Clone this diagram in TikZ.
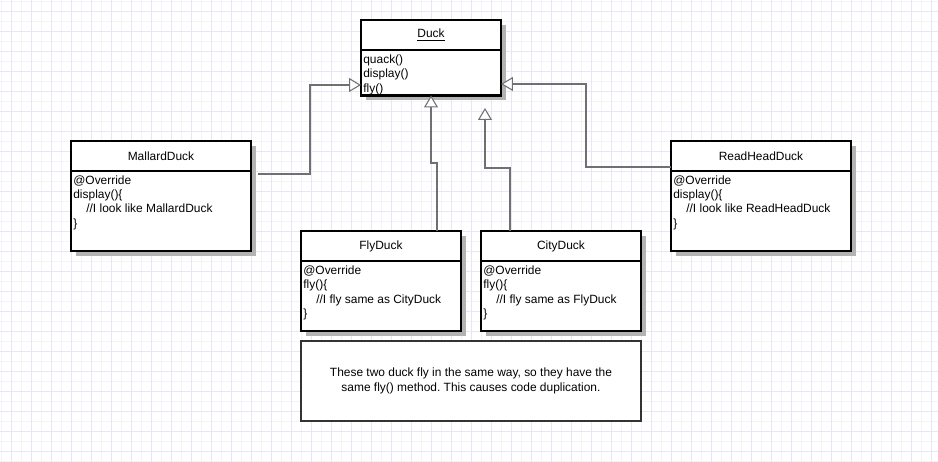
\documentclass[tikz,border=0pt]{standalone}
\usepackage{fontspec}
\setmainfont{Liberation Sans}
\usetikzlibrary{arrows.meta,shadows}

\definecolor{gridminor}{HTML}{F3F3FB}
\definecolor{gridmajor}{HTML}{E6E6F7}
\definecolor{shadowgray}{HTML}{B3B3B3}
\definecolor{linkgray}{HTML}{707070}
\definecolor{notegray}{HTML}{333333}
\newcommand{\umlfont}{\fontsize{6.8pt}{8.2pt}\selectfont}
\frenchspacing

\tikzset{
  classhead/.style={draw=black, fill=white, line width=1.5pt, inner sep=0pt, outer sep=0pt,
    anchor=north west, minimum height=0.6cm, font=\umlfont,
    drop shadow={shadow xshift=0.1cm, shadow yshift=-0.1cm, fill=shadowgray, opacity=1}},
  classbody/.style={classhead, minimum height=#1},
  member/.style={anchor=north west, inner sep=0pt, align=left, font=\umlfont},
  notebox/.style={draw=notegray, fill=white, line width=1.2pt, inner sep=0pt, outer sep=0pt,
    anchor=north west, align=center, font=\umlfont},
  inherit/.style={draw=linkgray, line width=0.8pt,
    -{Triangle[fill=white, length=0.24cm, width=0.28cm, line width=0.6pt]}},
}

\begin{document}
\begin{tikzpicture}[x=0.02cm, y=-0.02cm]
  \useasboundingbox (0,0) rectangle (938,462);
  \fill[white] (0,0) rectangle (938,462);
  % grid
  \foreach \gx in {1,11,...,931} \draw[gridminor, line width=0.5pt] (\gx,0) -- (\gx,462);
  \foreach \gy in {1,11,...,461} \draw[gridminor, line width=0.5pt] (0,\gy) -- (938,\gy);
  \foreach \gx in {11,31,...,931} \draw[gridmajor, line width=0.5pt] (\gx,0) -- (\gx,462);
  \foreach \gy in {11,31,...,451} \draw[gridmajor, line width=0.5pt] (0,\gy) -- (938,\gy);
  %
  \node[classhead, minimum width=2.8cm] (duck) at (361,20) {\underline{Duck}};
  \node[classbody=0.91cm, minimum width=2.8cm] (duckb) at (duck.south west) {};
  \node[member] (duckm) at (363,54.5) {quack()\\display()\\fly()};
  %
  \node[classhead, minimum width=3.6cm] (mallard) at (71,141) {MallardDuck};
  \node[classbody=1.6cm, minimum width=3.6cm] (mallardb) at (mallard.south west) {};
  \node[member] (mallardm) at (73,175) {@Override\\display()\{\\\hspace*{0.26cm}//I look like MallardDuck\\\}};
  %
  \node[classhead, minimum width=3.2cm] (fly) at (301,231) {FlyDuck};
  \node[classbody=1.4cm, minimum width=3.2cm] (flyb) at (fly.south west) {};
  \node[member] (flym) at (303,265.5) {@Override\\fly()\{\\\hspace*{0.26cm}//I fly same as CityDuck\\\}};
  %
  \node[classhead, minimum width=3.2cm] (city) at (481,231) {CityDuck};
  \node[classbody=1.4cm, minimum width=3.2cm] (cityb) at (city.south west) {};
  \node[member] (citym) at (483,265.5) {@Override\\fly()\{\\\hspace*{0.26cm}//I fly same as FlyDuck\\\}};
  %
  \node[classhead, minimum width=3.6cm] (readhead) at (671,141) {ReadHeadDuck};
  \node[classbody=1.6cm, minimum width=3.6cm] (readheadb) at (readhead.south west) {};
  \node[member] (readheadm) at (673,175) {@Override\\display()\{\\\hspace*{0.26cm}//I look like ReadHeadDuck\\\}};
  %
  \node[notebox, minimum width=6.8cm, minimum height=1.6cm] (note) at (301,341)
    {These two duck fly in the same way, so they have the\\same fly() method. This causes code duplication.};
  %
  \coordinate (mallardout) at (258,174);
  \coordinate (cityend) at (485,108);
  \draw[inherit] (mallardout) -- (310,174) -- (310,85) -- (duckb.west |- 310,85);
  \draw[inherit] (fly.north -| 437,0) -- (437,163) -- (431,163) -- (duckb.south -| 431,0);
  \draw[inherit] (city.north -| 510,0) -- (510,168) -- (485,168) -- (cityend);
  \draw[inherit] (readhead.west |- 0,167) -- (586,167) -- (586,84) -- (duckb.east |- 0,84);
\end{tikzpicture}
\end{document}
